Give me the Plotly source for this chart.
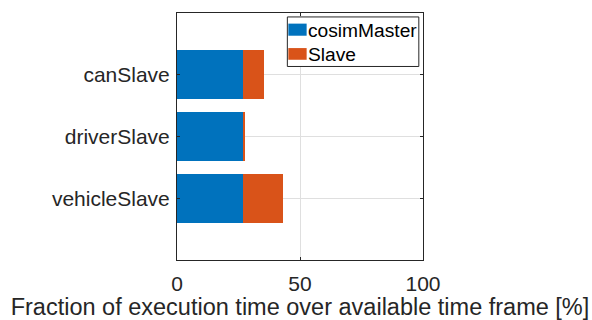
import plotly.graph_objects as go

# Execution-time breakdown per slave process (percent of available frame)
categories = ["canSlave", "driverSlave", "vehicleSlave"]
cosim_master = [27.0, 27.0, 27.0]
slave = [8.3, 0.8, 16.2]
series_names = ["cosimMaster", "Slave"]
x_ticks = [0, 50, 100]

BLUE = "#0072BD"
ORANGE = "#D95319"
AXIS = "#262626"
GRID = "#DFDFDF"
FONT = "Liberation Sans, Arial, Helvetica, sans-serif"

fig = go.Figure()
for name, vals, col in zip(series_names, [cosim_master, slave], [BLUE, ORANGE]):
    fig.add_trace(go.Bar(
        y=categories, x=vals, name=name, orientation="h",
        marker=dict(color=col, line=dict(width=0)),
        width=0.8, showlegend=False,
    ))

fig.update_layout(
    barmode="stack",
    width=592, height=320,
    margin=dict(l=177, r=169, t=13, b=60),
    paper_bgcolor="white", plot_bgcolor="white",
    font=dict(family=FONT, size=21, color=AXIS),
    xaxis=dict(
        range=[0, 100], tickvals=x_ticks, showgrid=True, gridcolor=GRID,
        zeroline=False, showline=True, linecolor=AXIS, linewidth=1,
        mirror="allticks", ticks="inside", ticklen=3, tickcolor=AXIS,
        tickfont=dict(size=21, color=AXIS), ticklabelstandoff=5,
        automargin=False,
        title=dict(text="Fraction of execution time over available time frame [%]",
                   font=dict(size=23.5, color=AXIS), standoff=8),
    ),
    yaxis=dict(
        type="category", categoryorder="array", categoryarray=categories,
        range=[3, -1], showgrid=True, gridcolor=GRID, zeroline=False,
        showline=True, linecolor=AXIS, linewidth=1, mirror="allticks",
        ticks="inside", ticklen=3, tickcolor=AXIS, automargin=False,
        tickfont=dict(size=21, color=AXIS), ticklabelstandoff=2,
    ),
)

# Legend box drawn in plot-area coordinates
fig.add_shape(type="rect", xref="paper", yref="paper",
              x0=0.4486, x1=0.983, y0=0.7835, y1=0.984,
              line=dict(color=AXIS, width=1), fillcolor="white", layer="above")
rows = [(0.908, 0.957, 0.930), (0.8107, 0.858, 0.834)]
for (y0, y1, yt), name, col in zip(rows, series_names, [BLUE, ORANGE]):
    fig.add_shape(type="rect", xref="paper", yref="paper",
                  x0=0.4526, x1=0.527, y0=y0, y1=y1,
                  line=dict(width=0), fillcolor=col, layer="above")
    fig.add_annotation(x=0.525, y=yt, xref="paper", yref="paper",
                       text=name, showarrow=False, xanchor="left", yanchor="middle",
                       font=dict(family=FONT, size=19.2, color="#000000"))

fig.write_html("out.html")
